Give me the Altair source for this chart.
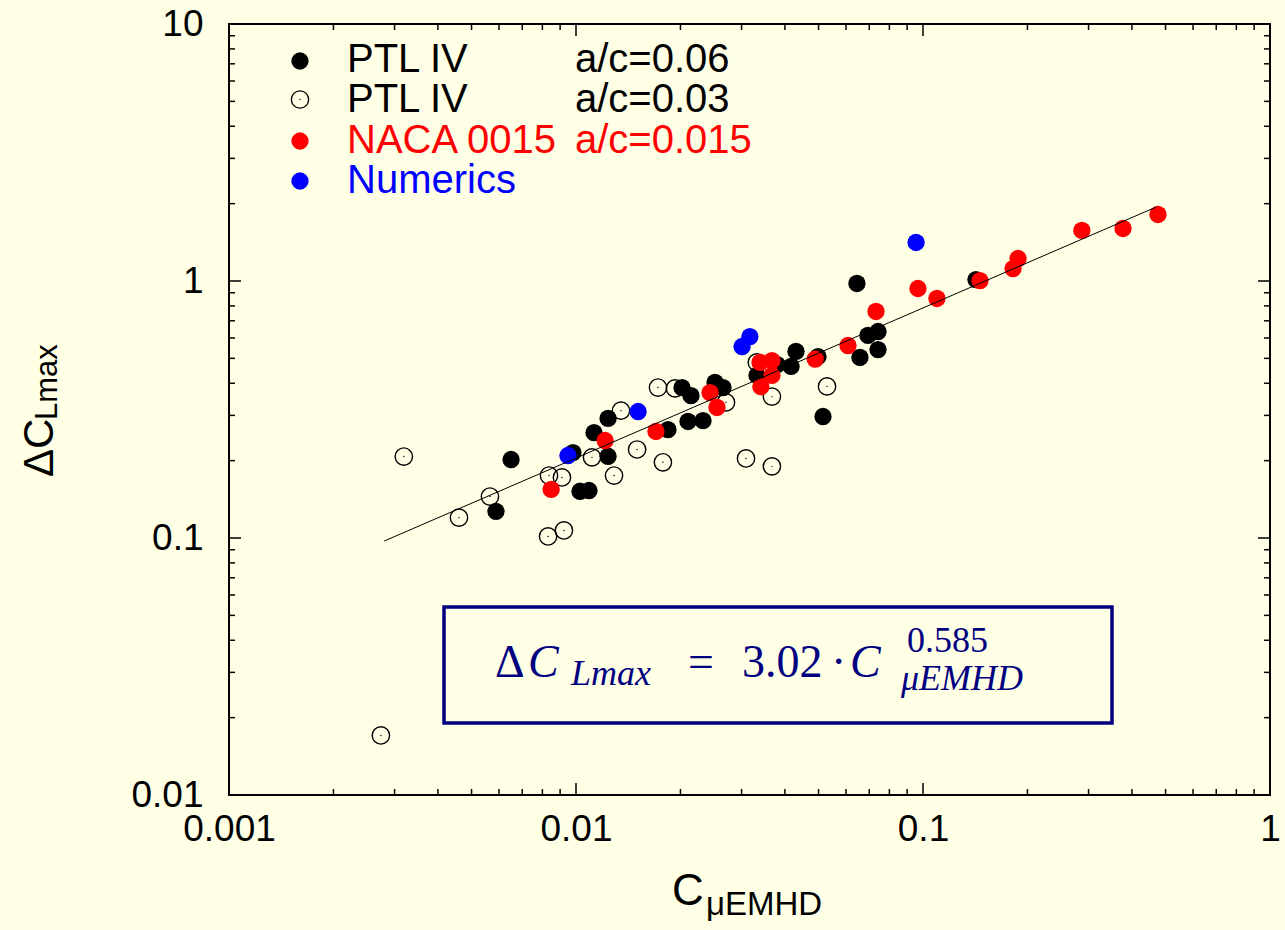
import altair as alt
import pandas as pd

# ---------------- data ----------------
ptl06_x = [0.00588, 0.00650, 0.00980, 0.01027, 0.01090, 0.01127, 0.01237, 0.01237, 0.01841,
           0.02103, 0.02323, 0.02021, 0.02145, 0.02516, 0.02653, 0.03324, 0.0380, 0.04166,
           0.04305, 0.04982, 0.0515, 0.0645, 0.0658, 0.0694, 0.0742, 0.0742, 0.1421]
ptl06_y = [0.127, 0.202, 0.215, 0.152, 0.153, 0.257, 0.208, 0.292, 0.264,
           0.284, 0.286, 0.385, 0.358, 0.403, 0.385, 0.429, 0.473, 0.465,
           0.532, 0.508, 0.297, 0.978, 0.504, 0.614, 0.636, 0.541, 1.013]

ptl03_x = [0.00274, 0.00319, 0.0046, 0.00565, 0.00836, 0.00911, 0.00831, 0.00923, 0.01112,
           0.01287, 0.01348, 0.0150, 0.0178, 0.01723, 0.01929, 0.02706, 0.0309, 0.0367,
           0.0332, 0.0367, 0.0529]
ptl03_y = [0.01705, 0.2075, 0.120, 0.145, 0.175, 0.172, 0.1014, 0.107, 0.206,
           0.175, 0.313, 0.221, 0.197, 0.385, 0.382, 0.337, 0.204, 0.190,
           0.482, 0.355, 0.389]

naca_x = [0.00848, 0.01213, 0.0170, 0.02433, 0.02549, 0.0339, 0.0367, 0.0367, 0.0341, 0.0489,
          0.0608, 0.0732, 0.0967, 0.1097, 0.146, 0.1817, 0.1879, 0.287, 0.377, 0.4755]
naca_y = [0.1545, 0.2395, 0.2597, 0.368, 0.322, 0.482, 0.490, 0.429, 0.388, 0.497,
          0.561, 0.761, 0.935, 0.855, 1.004, 1.118, 1.223, 1.573, 1.601, 1.815]

num_x = [0.00948, 0.0151, 0.0301, 0.0317, 0.0955]
num_y = [0.2094, 0.3106, 0.556, 0.608, 1.412]

fit_x = [0.0028, 0.47]
fit_y = [0.0973, 1.94]

x_major = [0.001, 0.01, 0.1, 1]
y_major = [0.01, 0.1, 1, 10]
x_minor = [k * d for d in [0.001, 0.01, 0.1] for k in range(2, 10)]
y_minor = [k * d for d in [0.01, 0.1, 1] for k in range(2, 10)]

# ---------------- layout ----------------
W, H = 1041, 771
BG = "#FFFFE6"
NAVY = "#000080"
SANS = "Liberation Sans"
SERIF = "Liberation Serif"

xs = alt.Scale(type="log", domain=[0.001, 1], nice=False)
ys = alt.Scale(type="log", domain=[0.01, 10], nice=False)

xaxis = alt.Axis(values=x_major, format="~g", title=None, ticks=False, domain=False, grid=False,
                 labelFont=SANS, labelFontSize=37, labelColor="black", labelPadding=16,
                 labelFlush=False, labelOverlap=False, labelBound=False)
yaxis = alt.Axis(values=y_major, format="~g", title=None, ticks=False, domain=False, grid=False,
                 labelFont=SANS, labelFontSize=37, labelColor="black", labelPadding=26,
                 labelFlush=False, labelOverlap=False, labelBound=False)


def pts(xv, yv):
    return pd.DataFrame({"x": xv, "y": yv})


def enc(ch):
    return ch.encode(x=alt.X("x:Q", scale=xs, axis=xaxis), y=alt.Y("y:Q", scale=ys, axis=yaxis))


SIZE = 300
open_pts = enc(alt.Chart(pts(ptl03_x, ptl03_y)).mark_point(
    shape="circle", filled=False, stroke="black", strokeWidth=1.4, size=SIZE, opacity=1))
open_dots = enc(alt.Chart(pts(ptl03_x, ptl03_y)).mark_circle(size=2, color="black", opacity=1))
black_pts = enc(alt.Chart(pts(ptl06_x, ptl06_y)).mark_circle(size=SIZE, color="black", opacity=1))
red_pts = enc(alt.Chart(pts(naca_x, naca_y)).mark_circle(size=SIZE, color="#FF0000", opacity=1))
blue_pts = enc(alt.Chart(pts(num_x, num_y)).mark_circle(size=SIZE, color="#0000FF", opacity=1))
fit_line = enc(alt.Chart(pts(fit_x, fit_y)).mark_line(color="black", strokeWidth=1))


# inward ticks on all four sides
def xticks(vals, length):
    d = pd.DataFrame({"v": vals})
    b = alt.Chart(d).mark_rule(color="black", strokeWidth=1.5).encode(
        x=alt.X("v:Q", scale=xs, axis=xaxis), y=alt.value(H), y2=alt.value(H - length))
    t = alt.Chart(d).mark_rule(color="black", strokeWidth=1.5).encode(
        x=alt.X("v:Q", scale=xs, axis=xaxis), y=alt.value(0), y2=alt.value(length))
    return [b, t]


def yticks(vals, length):
    d = pd.DataFrame({"v": vals})
    l = alt.Chart(d).mark_rule(color="black", strokeWidth=1.5).encode(
        y=alt.Y("v:Q", scale=ys, axis=yaxis), x=alt.value(0), x2=alt.value(length))
    r = alt.Chart(d).mark_rule(color="black", strokeWidth=1.5).encode(
        y=alt.Y("v:Q", scale=ys, axis=yaxis), x=alt.value(W), x2=alt.value(W - length))
    return [l, r]


ticks = xticks(x_major, 12) + xticks(x_minor, 6) + yticks(y_major, 12) + yticks(y_minor, 6)


def txt(s, x, y, size, color="black", font=SANS, style="normal", angle=0, align="left",
        baseline="alphabetic"):
    kw = dict(font=font, fontSize=size, color=color, fontStyle=style, align=align,
              baseline=baseline)
    if angle:
        kw["angle"] = angle
    return alt.Chart(pd.DataFrame({"t": [s]})).mark_text(**kw).encode(
        text="t:N", x=alt.value(x), y=alt.value(y))


def dot(x, y, color, filled=True):
    d = pd.DataFrame({"a": [0]})
    if filled:
        return alt.Chart(d).mark_circle(size=SIZE, color=color, opacity=1).encode(
            x=alt.value(x), y=alt.value(y))
    return alt.Chart(d).mark_point(shape="circle", filled=False, stroke=color, strokeWidth=1.4,
                                   size=SIZE, opacity=1).encode(x=alt.value(x), y=alt.value(y))


# legend
LX, TX, TX2, LS = 71, 118, 346, 40
legend = [
    dot(LX, 37, "black"), txt("PTL IV", TX, 48, LS), txt("a/c=0.06", TX2, 48, LS),
    dot(LX, 75.5, "black", filled=False),
    alt.Chart(pd.DataFrame({"a": [0]})).mark_circle(size=2, color="black", opacity=1).encode(
        x=alt.value(LX), y=alt.value(75.5)),
    txt("PTL IV", TX, 88, LS), txt("a/c=0.03", TX2, 88, LS),
    dot(LX, 117, "#FF0000"), txt("NACA 0015", TX, 129, LS, "#FF0000"),
    txt("a/c=0.015", TX2, 129, LS, "#FF0000"),
    dot(LX, 157, "#0000FF"), txt("Numerics", TX, 169, LS, "#0000FF"),
]

# equation box
box = alt.Chart(pd.DataFrame({"a": [0]})).mark_rect(
    fill=None, stroke=NAVY, strokeWidth=3.5).encode(
    x=alt.value(215), x2=alt.value(883), y=alt.value(583), y2=alt.value(699))
EQ, SUB = 46, 36
eq = [
    txt("\u0394", 266, 653, EQ, NAVY, SERIF),
    txt("C", 299, 653, EQ, NAVY, SERIF, "italic"),
    txt("Lmax", 342, 661, SUB, NAVY, SERIF, "italic"),
    txt("=", 459, 653, EQ, NAVY, SERIF),
    txt("3.02", 513, 653, EQ, NAVY, SERIF),
    txt("\u00b7", 602, 653, EQ, NAVY, SERIF),
    txt("C", 621, 653, EQ, NAVY, SERIF, "italic"),
    txt("0.585", 678, 628, SUB, NAVY, SERIF),
    txt("\u03bcEMHD", 672, 666, SUB, NAVY, SERIF, "italic"),
]

# axis titles
titles = [
    txt("C", 443, 881, 44),
    txt("\u03bcEMHD", 477, 891, 33),
    txt("\u0394C", -176, 453, 42, angle=270),
    txt("Lmax", -172, 396, 31, angle=270),
]

chart = alt.layer(
    *ticks, open_pts, open_dots, black_pts, red_pts, blue_pts, fit_line, box, *eq, *legend, *titles
).properties(
    width=W, height=H, background=BG,
    autosize=alt.AutoSizeParams(type="none"),
    padding={"left": 229, "top": 24, "right": 15, "bottom": 135},
).configure_view(stroke="black", strokeWidth=2, fill=BG)

chart.save("out.html", embed_options={"renderer": "svg", "actions": False})
